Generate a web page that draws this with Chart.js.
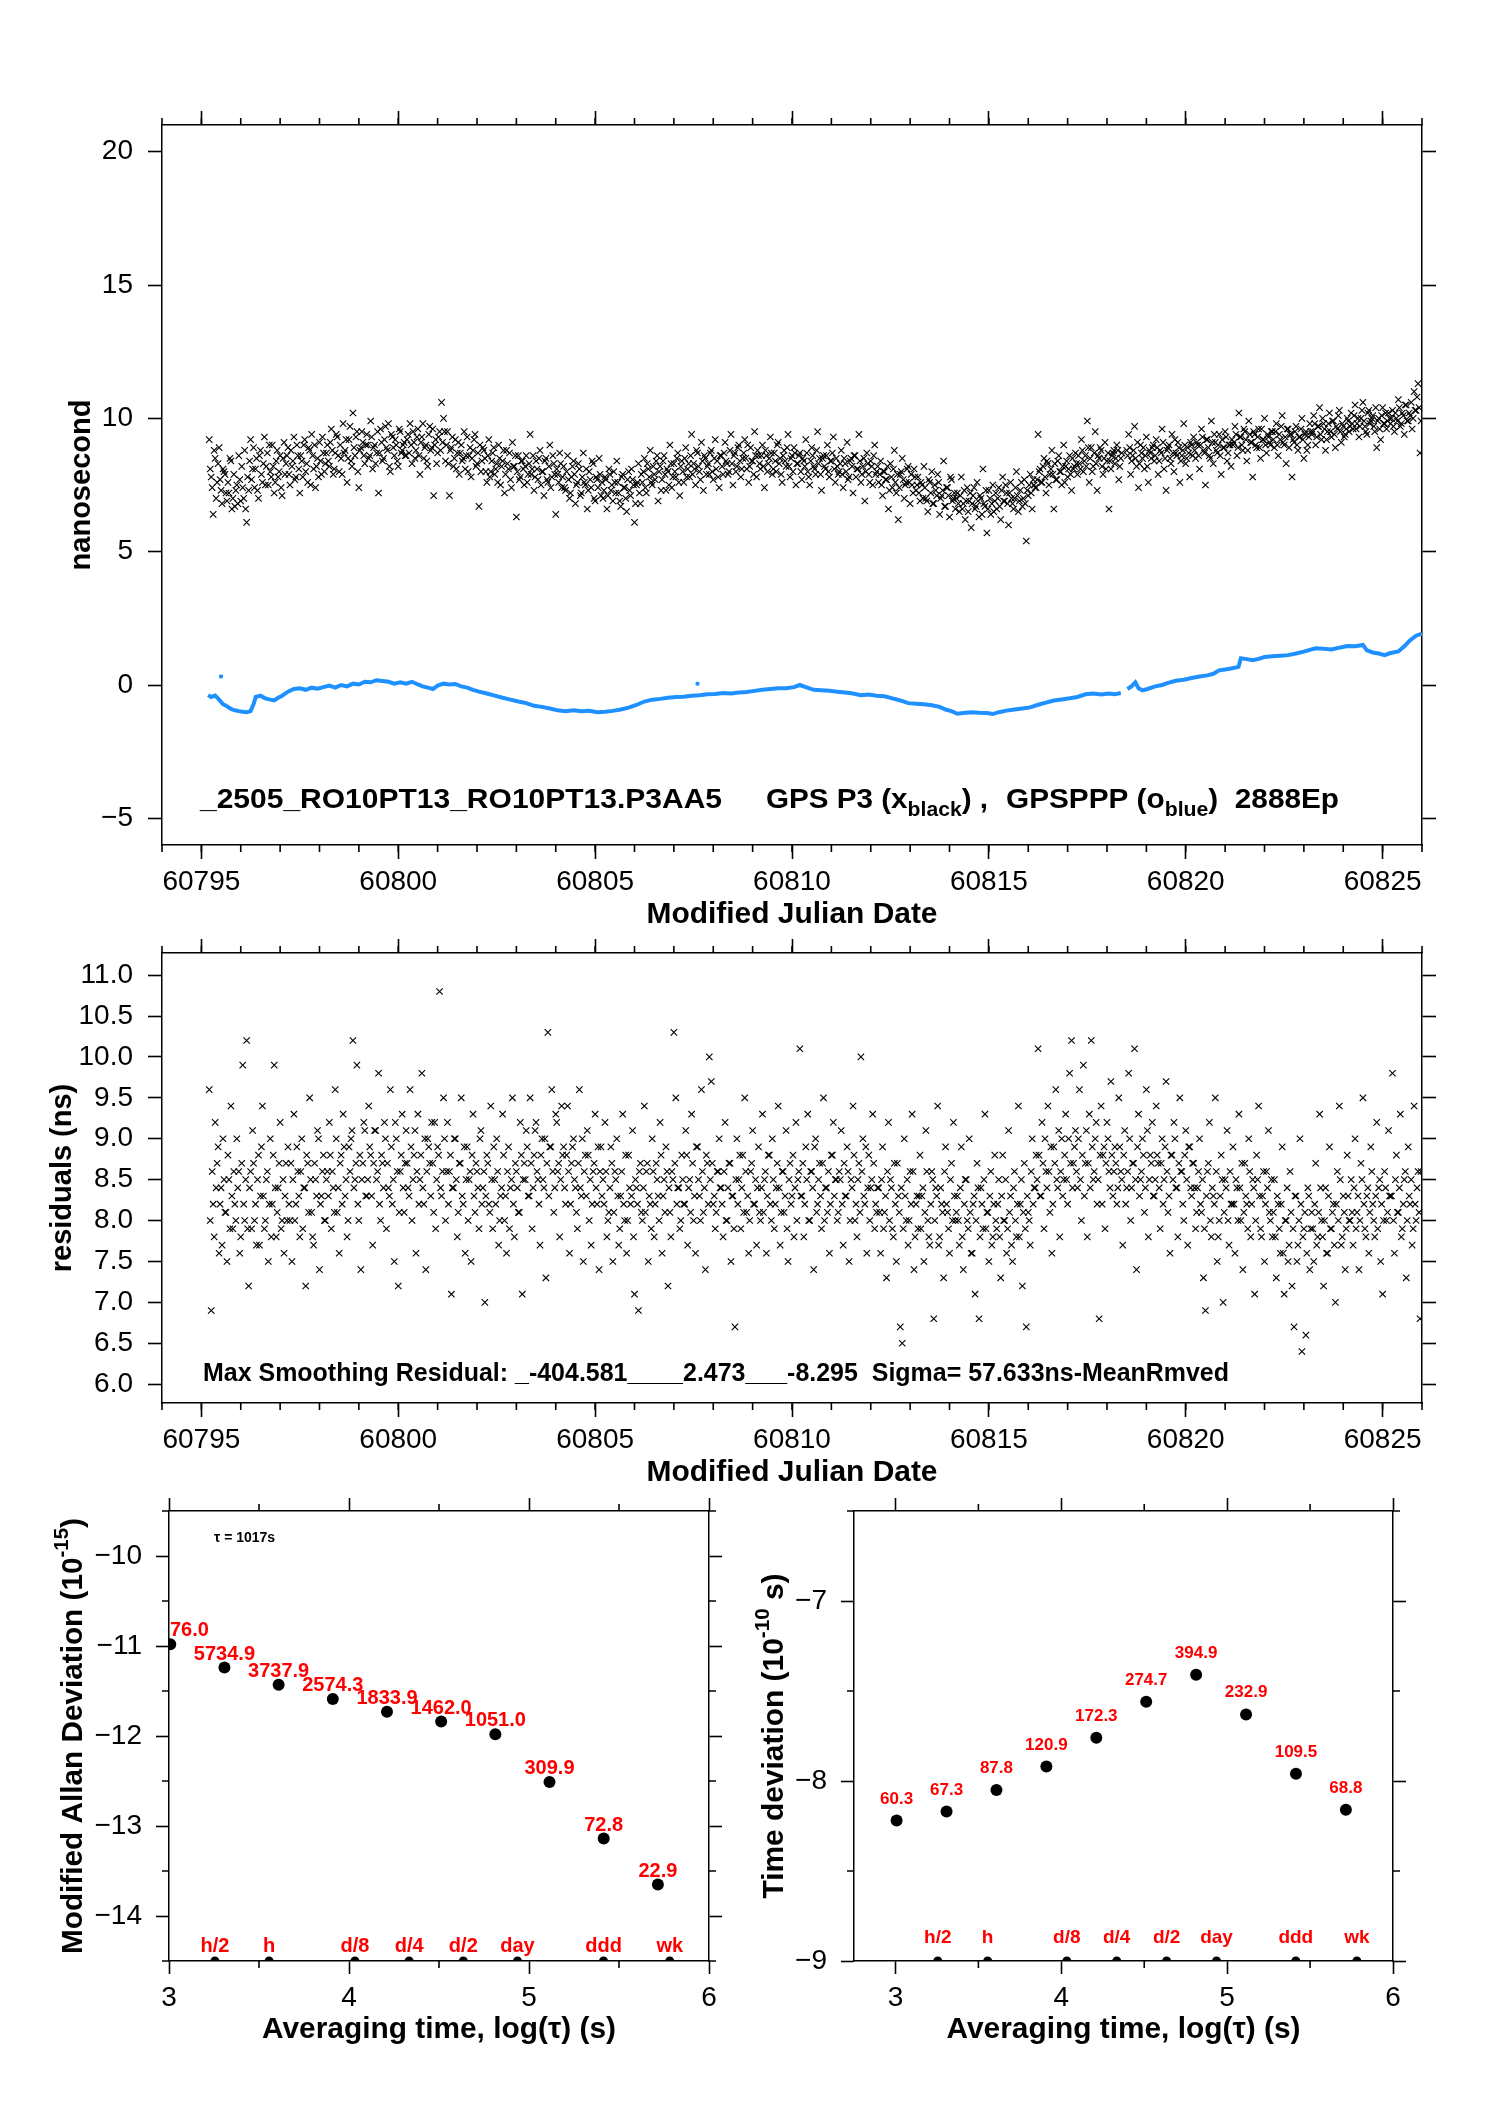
<!DOCTYPE html>
<html>
<head>
<meta charset="utf-8">
<title>GPS P3 vs GPSPPP</title>
<script src="https://cdn.jsdelivr.net/npm/chart.js@4.4.1/dist/chart.umd.min.js"></script>
<style>
  html, body { margin: 0; padding: 0; background: #fff; }
  #page { position: relative; width: 1488px; height: 2105px; }
  #page canvas { position: absolute; left: 0; top: 0; }
</style>
</head>
<body>
<div id="page">
  <canvas id="topChart" width="1488" height="2105"></canvas>
  <canvas id="resChart" width="1488" height="2105"></canvas>
  <canvas id="mdevChart" width="1488" height="2105"></canvas>
  <canvas id="tdevChart" width="1488" height="2105"></canvas>
</div>
<script>
// setup
const W = 1488, H = 2105;
const FONT = '"Liberation Sans", Arial, sans-serif';
const BLUE = '#1e90ff';
const RED = '#ff0000';

// sampling grids of the black series: one epoch every 0.05 d, two interleaved passes
const epochs = Array.from({ length: 616 }, (_, i) => +(60795.2 + i * 0.05).toFixed(3));
const epochs2 = Array.from({ length: 616 }, (_, i) => +(60795.225 + i * 0.05).toFixed(3));

// GPS P3 (x black), ns - one line per day starting at the MJD in the comment
const p3Black = [
  9.2, 7.8, 6.4, 8.5, 7.6, 8.9, 7.3, 8.1, 7.9, 6.9, 7.2, 8.4, 7.0, 6.7, 7.5, 8.6, 6.9, 7.4, 8.8, 6.1, // 60795.2
  7.3, 9.2, 8.1, 7.4, 8.5, 7.0, 8.8, 7.6, 9.3, 8.2, 7.5, 8.0, 9.0, 7.2, 8.4, 7.8, 8.6, 7.1, 9.1, 8.3, // 60796.2
  8.9, 7.5, 8.2, 9.3, 7.8, 8.6, 7.2, 8.4, 9.0, 8.0, 7.6, 8.8, 9.4, 8.1, 7.4, 8.5, 9.1, 7.9, 8.7, 8.3, // 60797.2
  9.0, 8.2, 9.6, 7.9, 8.7, 9.3, 8.0, 8.5, 9.8, 8.8, 7.6, 9.2, 8.4, 10.2, 8.6, 9.5, 7.4, 8.9, 9.1, 8.3, // 60798.2
  9.4, 8.5, 9.9, 8.1, 9.0, 8.7, 7.2, 9.6, 8.4, 9.2, 8.9, 9.8, 8.0, 9.3, 8.6, 9.0, 8.2, 9.5, 8.8, 9.1, // 60799.2
  8.6, 9.4, 9.8, 8.3, 9.1, 8.8, 9.6, 7.9, 9.3, 8.5, 9.0, 8.2, 9.7, 8.9, 7.1, 9.2, 8.7, 9.5, 10.6, 10.0, // 60800.2
  8.4, 9.5, 7.1, 8.9, 8.2, 9.2, 8.7, 7.9, 9.0, 8.5, 8.1, 9.3, 8.6, 7.8, 8.8, 9.4, 8.3, 6.7, 8.0, 8.9, // 60801.2
  8.5, 7.6, 9.2, 8.0, 8.7, 7.9, 8.3, 9.0, 7.5, 8.4, 7.2, 8.8, 8.1, 7.7, 9.1, 8.2, 6.3, 8.6, 7.8, 8.4, // 60802.2
  7.5, 8.6, 7.9, 9.4, 8.1, 7.3, 8.4, 7.7, 8.8, 8.0, 7.1, 8.5, 7.6, 9.0, 7.8, 8.3, 6.4, 7.9, 8.7, 7.4, // 60803.2
  8.2, 7.3, 8.6, 7.0, 7.8, 8.4, 6.8, 7.6, 8.1, 7.2, 8.7, 7.5, 6.6, 8.0, 7.4, 8.3, 6.9, 7.7, 8.5, 7.1, // 60804.2
  7.0, 7.8, 6.6, 8.1, 7.3, 6.9, 7.6, 8.4, 7.2, 6.7, 7.9, 7.4, 6.5, 8.0, 7.1, 7.7, 6.1, 7.5, 8.3, 6.8, // 60805.2
  7.6, 8.5, 7.2, 8.1, 8.8, 7.5, 7.9, 8.4, 6.9, 8.2, 7.7, 8.6, 7.3, 8.0, 9.0, 7.4, 8.3, 7.8, 8.7, 7.1, // 60806.2
  8.4, 7.6, 8.9, 8.1, 7.8, 9.4, 8.3, 7.5, 8.7, 8.0, 9.1, 7.3, 8.5, 8.2, 7.9, 8.8, 7.7, 9.2, 8.4, 7.4, // 60807.2
  8.6, 7.9, 9.1, 8.3, 8.0, 9.4, 7.5, 8.7, 8.2, 9.0, 7.8, 8.5, 9.2, 8.1, 7.6, 8.9, 8.4, 9.5, 7.8, 8.6, // 60808.2
  8.1, 9.0, 7.4, 8.6, 8.3, 9.3, 7.9, 8.7, 8.0, 9.1, 8.5, 7.6, 8.8, 8.2, 9.4, 7.8, 8.6, 8.9, 7.5, 8.3, // 60809.2
  8.7, 7.7, 8.4, 9.2, 8.0, 7.5, 8.9, 8.2, 7.9, 9.5, 8.5, 7.3, 8.6, 8.1, 9.0, 7.8, 8.4, 9.3, 7.6, 8.2, // 60810.2
  8.0, 8.8, 7.4, 8.3, 9.1, 7.8, 8.5, 7.2, 8.6, 8.1, 9.4, 7.6, 8.2, 6.9, 8.7, 7.9, 8.4, 7.5, 9.0, 8.0, // 60811.2
  7.6, 8.4, 7.1, 8.0, 7.7, 6.6, 8.3, 7.4, 8.8, 7.2, 6.2, 7.9, 8.5, 7.0, 7.6, 8.2, 6.8, 7.5, 8.1, 7.3, // 60812.2
  7.8, 6.9, 7.5, 8.2, 7.0, 6.5, 7.6, 8.0, 6.8, 7.3, 7.9, 6.4, 7.1, 8.4, 6.7, 7.4, 6.3, 7.7, 7.0, 6.6, // 60813.2
  7.2, 6.5, 7.8, 6.8, 6.2, 7.4, 6.9, 5.9, 7.1, 6.6, 7.6, 6.3, 7.0, 8.1, 6.7, 5.7, 7.3, 6.4, 7.5, 6.9, // 60814.2
  6.6, 7.4, 6.2, 7.8, 6.9, 7.2, 6.0, 7.6, 6.8, 7.0, 8.0, 6.5, 7.3, 6.7, 7.7, 5.4, 7.1, 7.9, 6.6, 7.5, // 60815.2
  7.4, 9.4, 8.1, 7.6, 8.5, 7.2, 8.3, 7.9, 8.8, 6.6, 7.7, 8.4, 8.0, 7.5, 9.0, 8.2, 7.8, 8.6, 7.3, 8.1, // 60816.2
  8.7, 7.9, 8.3, 9.2, 8.0, 8.6, 9.9, 7.6, 8.9, 8.2, 9.5, 7.3, 8.5, 8.8, 7.9, 9.1, 8.4, 6.6, 8.1, 8.7, // 60817.2
  8.3, 9.0, 7.7, 8.5, null, null, 8.8, 9.4, 7.9, 8.6, 9.7, 8.2, 7.4, 9.0, 8.5, 8.1, 9.3, 7.6, 8.7, 8.9, // 60818.2
  8.4, 9.2, 7.9, 8.8, 9.6, 8.1, 7.3, 8.9, 8.5, 9.4, 8.0, 8.7, 9.1, 7.6, 8.6, 9.8, 8.3, 8.9, 7.8, 9.0, // 60819.2
  9.3, 8.5, 9.0, 8.1, 9.6, 8.8, 7.5, 9.2, 8.6, 9.9, 8.3, 9.1, 8.7, 9.4, 7.9, 8.9, 9.5, 8.4, 9.0, 8.2, // 60820.2
  9.0, 9.7, 8.6, 10.2, 9.3, 8.8, 9.5, 8.4, 9.9, 9.1, 7.8, 9.4, 8.9, 9.6, 8.5, 9.2, 10.0, 8.7, 9.3, 9.0, // 60821.2
  9.5, 8.9, 9.8, 8.6, 9.2, 10.1, 9.0, 8.3, 9.6, 9.4, 7.8, 9.1, 9.7, 8.8, 9.3, 10.0, 8.5, 9.5, 9.0, 9.8, // 60822.2
  9.4, 10.1, 9.0, 9.7, 10.4, 9.2, 9.8, 8.8, 9.5, 10.2, 9.3, 9.9, 8.9, 9.6, 10.3, 9.1, 9.7, 9.4, 10.0, 9.5, // 60823.2
  10.2, 9.6, 10.5, 9.8, 9.3, 10.0, 10.6, 9.7, 9.4, 10.3, 9.9, 10.1, 9.5, 8.9, 10.0, 9.2, 10.4, 9.8, 9.6, 10.2, // 60824.2
  9.8, 10.3, 9.5, 10.0, 10.7, 9.7, 10.2, 9.4, 10.5, 9.9, 10.1, 9.6, 11.0, 10.3, 11.3, 8.7 // 60825.2
];
// second pass, epochs2
const p3Black2 = [
  8.1, 7.4, 8.8, 7.0, 8.3, 7.7, 6.8, 8.0, 7.2, 7.6, 8.5, 6.6, 7.9, 7.3, 6.8, 7.7, 8.2, 7.0, 6.6, 7.8, // 60795.2
  8.4, 7.7, 8.9, 8.1, 7.3, 8.6, 7.9, 8.3, 7.5, 8.7, 9.0, 7.8, 8.2, 7.6, 8.8, 8.0, 7.4, 8.5, 7.9, 8.6, // 60796.2
  7.9, 8.8, 8.4, 7.7, 9.0, 8.1, 8.6, 7.8, 9.2, 8.3, 8.9, 7.5, 8.6, 9.0, 8.2, 7.8, 8.4, 9.3, 8.0, 8.7, // 60797.2
  8.4, 9.1, 8.8, 8.1, 9.4, 8.6, 9.0, 7.9, 8.7, 9.2, 8.5, 9.7, 8.2, 8.9, 9.3, 8.0, 8.8, 9.5, 8.6, 9.0, // 60798.2
  9.0, 8.6, 9.3, 8.9, 8.3, 9.5, 8.7, 9.1, 8.5, 9.7, 8.8, 8.2, 9.4, 8.9, 9.2, 8.4, 9.6, 8.7, 9.0, 8.6, // 60799.2
  9.2, 8.7, 9.0, 9.5, 8.5, 9.3, 8.6, 9.1, 9.8, 8.9, 8.4, 9.4, 8.8, 9.6, 9.0, 8.3, 9.3, 8.8, 9.1, 9.5, // 60800.2
  9.0, 8.3, 8.8, 9.3, 8.5, 8.1, 9.1, 8.7, 8.4, 9.5, 8.6, 8.0, 8.9, 8.5, 9.2, 8.2, 8.7, 9.0, 8.4, 8.8, // 60801.2
  8.0, 8.6, 7.8, 8.4, 8.9, 8.1, 7.6, 8.5, 8.2, 8.8, 7.9, 8.3, 8.7, 7.4, 8.2, 8.6, 8.0, 7.7, 8.4, 8.1, // 60802.2
  8.2, 7.6, 8.3, 7.9, 8.6, 7.8, 8.1, 8.5, 7.5, 8.0, 8.4, 7.7, 8.2, 7.4, 8.6, 7.9, 8.1, 7.6, 8.3, 7.8, // 60803.2
  7.4, 8.0, 7.7, 7.2, 8.2, 7.9, 7.5, 8.3, 7.1, 7.8, 7.6, 8.1, 7.3, 7.7, 8.4, 7.0, 7.8, 7.4, 7.9, 7.6, // 60804.2
  7.3, 7.7, 7.1, 7.9, 7.5, 8.0, 7.2, 7.6, 6.9, 7.8, 7.4, 7.0, 7.7, 7.3, 8.1, 7.5, 6.8, 7.6, 7.2, 7.9, // 60805.2
  8.0, 7.4, 8.3, 7.8, 7.6, 8.2, 7.7, 8.6, 8.0, 7.3, 8.4, 7.9, 8.1, 7.5, 8.3, 7.8, 8.0, 8.5, 7.6, 8.2, // 60806.2
  8.0, 8.5, 7.8, 8.3, 8.6, 7.9, 8.1, 8.8, 8.2, 7.7, 8.4, 8.6, 7.9, 8.3, 8.7, 8.0, 8.5, 8.1, 7.8, 8.6, // 60807.2
  8.2, 8.7, 8.4, 7.9, 8.8, 8.3, 8.6, 8.0, 8.9, 8.4, 8.1, 8.7, 8.5, 9.0, 8.2, 8.4, 7.9, 8.6, 8.8, 8.3, // 60808.2
  8.6, 8.2, 8.8, 8.0, 8.5, 8.7, 8.1, 8.4, 9.0, 8.3, 7.9, 8.6, 8.4, 8.9, 8.2, 8.5, 8.0, 8.7, 8.3, 8.6, // 60809.2
  8.0, 8.5, 8.2, 8.7, 7.8, 8.4, 8.6, 8.1, 8.8, 8.3, 7.9, 8.5, 8.2, 8.6, 8.0, 8.4, 8.7, 8.1, 8.5, 7.9, // 60810.2
  8.3, 7.9, 8.5, 8.0, 7.7, 8.4, 8.2, 8.6, 7.8, 8.1, 8.4, 7.9, 8.5, 8.0, 8.3, 7.6, 8.2, 8.6, 7.9, 8.2, // 60811.2
  7.9, 7.5, 8.0, 7.7, 8.2, 7.3, 7.8, 8.1, 7.6, 7.9, 7.4, 8.0, 7.7, 7.5, 8.1, 7.6, 7.9, 7.2, 7.8, 7.5, // 60812.2
  7.2, 7.6, 7.0, 7.4, 6.9, 7.7, 7.2, 6.8, 7.5, 7.1, 7.6, 7.0, 7.3, 6.7, 7.4, 7.1, 7.8, 6.9, 7.2, 7.0, // 60813.2
  6.8, 7.1, 6.6, 7.3, 6.9, 6.5, 7.2, 6.8, 7.4, 6.7, 6.9, 7.1, 6.4, 6.8, 7.3, 6.6, 7.0, 6.8, 6.5, 7.2, // 60814.2
  7.0, 6.7, 7.3, 6.9, 7.5, 6.8, 7.2, 7.0, 6.6, 7.4, 7.1, 6.9, 7.6, 7.0, 6.8, 7.3, 7.5, 7.2, 7.7, 7.4, // 60815.2
  7.7, 8.0, 7.6, 8.2, 7.8, 8.4, 7.5, 8.1, 7.9, 8.3, 7.7, 8.6, 8.0, 8.2, 7.6, 8.4, 8.1, 7.9, 8.5, 8.2, // 60816.2
  8.3, 8.6, 8.1, 8.8, 8.4, 8.2, 8.9, 8.5, 8.0, 8.7, 8.3, 8.6, 8.9, 8.2, 8.5, 8.1, 8.7, 8.4, 8.6, 8.8, // 60817.2
  8.5, 8.8, 8.2, 8.7, null, null, 8.6, 8.9, 8.4, 8.8, 8.5, 9.1, 8.3, 8.7, 8.9, 8.6, 8.2, 8.8, 8.5, 9.0, // 60818.2
  8.6, 8.9, 8.4, 8.7, 9.1, 8.5, 8.8, 9.0, 8.3, 8.7, 9.2, 8.6, 8.9, 8.4, 8.8, 9.0, 8.5, 8.7, 9.1, 8.6, // 60819.2
  8.8, 9.1, 8.6, 9.0, 9.3, 8.7, 9.2, 8.9, 8.5, 9.1, 9.4, 8.8, 9.0, 8.6, 9.2, 8.9, 9.3, 8.7, 9.0, 9.2, // 60820.2
  9.1, 9.4, 8.9, 9.3, 9.0, 9.6, 9.2, 8.8, 9.4, 9.1, 9.5, 9.0, 9.3, 8.9, 9.6, 9.2, 9.0, 9.4, 9.1, 9.5, // 60821.2
  9.2, 9.5, 9.0, 9.4, 9.7, 9.1, 9.3, 9.6, 8.9, 9.4, 9.2, 9.5, 9.0, 9.3, 9.6, 9.2, 9.4, 8.8, 9.3, 9.5, // 60822.2
  9.5, 9.8, 9.3, 9.7, 9.4, 10.0, 9.6, 9.2, 9.8, 9.5, 9.9, 9.4, 9.7, 10.1, 9.5, 9.8, 9.3, 9.6, 9.9, 9.7, // 60823.2
  9.8, 10.1, 9.6, 10.0, 9.7, 10.3, 9.9, 9.5, 10.2, 9.8, 10.0, 9.7, 10.4, 9.9, 9.6, 10.1, 9.8, 10.2, 9.9, 10.0, // 60824.2
  10.0, 9.7, 10.2, 9.9, 10.4, 9.8, 10.1, 10.5, 9.9, 10.2, 10.6, 10.0, 10.3, 10.8, 10.4, 9.9 // 60825.2
];

// residuals of the black series after smoothing, ns
const residuals = [
  9.6, 6.9, 8.2, 9.2, 8.7, 7.6, 8.4, 9.0, 8.1, 7.5, 8.5, 9.4, 7.9, 8.2, 9.0, 8.6, 7.8, 9.9, 8.0, 10.2, // 60795.2
  7.2, 8.6, 9.1, 8.0, 7.7, 8.8, 8.3, 9.4, 7.9, 8.5, 7.5, 9.0, 8.2, 9.9, 7.8, 8.4, 9.2, 8.0, 7.6, 8.7, // 60796.2
  8.9, 8.0, 7.5, 9.3, 8.2, 8.6, 7.8, 9.0, 8.4, 7.2, 8.7, 9.5, 8.1, 7.7, 8.5, 9.1, 7.4, 8.3, 8.8, 8.0, // 60797.2
  8.6, 9.2, 7.9, 8.4, 9.6, 8.1, 7.6, 8.8, 9.3, 8.3, 7.8, 8.9, 9.0, 10.2, 8.5, 9.9, 8.0, 7.4, 8.7, 9.1, // 60798.2
  8.3, 9.4, 8.8, 7.7, 9.1, 8.5, 9.8, 8.0, 8.7, 9.2, 7.9, 8.4, 9.6, 8.2, 7.5, 9.0, 7.2, 8.6, 9.3, 8.1, // 60799.2
  9.1, 8.4, 9.6, 8.0, 8.8, 7.6, 9.3, 8.5, 9.8, 8.2, 7.4, 9.0, 8.7, 9.2, 8.1, 7.9, 8.9, 10.8, 8.3, 9.5, // 60800.2
  8.0, 9.2, 8.6, 7.1, 8.4, 9.0, 7.8, 8.7, 9.5, 8.2, 7.6, 8.9, 8.5, 7.5, 9.3, 8.1, 8.6, 7.9, 9.1, 8.4, // 60801.2
  7.0, 8.8, 8.2, 9.4, 7.9, 8.5, 9.0, 7.7, 8.3, 9.3, 8.0, 7.6, 8.9, 8.4, 9.5, 7.8, 8.6, 8.1, 9.2, 7.1, // 60802.2
  8.7, 9.1, 8.3, 9.5, 7.9, 8.8, 9.2, 8.5, 7.7, 9.0, 8.4, 7.3, 10.3, 8.9, 9.6, 8.1, 9.3, 8.6, 7.8, 9.4, // 60803.2
  8.9, 8.2, 9.4, 7.6, 8.7, 9.0, 8.4, 7.9, 9.6, 8.3, 7.5, 8.8, 9.1, 8.0, 7.7, 8.6, 9.3, 8.2, 7.4, 8.9, // 60804.2
  8.5, 9.2, 7.8, 8.1, 8.9, 7.5, 8.6, 9.0, 7.7, 8.3, 9.3, 8.0, 7.6, 8.8, 8.2, 9.1, 7.1, 8.4, 6.9, 8.7, // 60805.2
  8.0, 9.4, 8.6, 7.5, 8.2, 9.0, 7.8, 8.7, 8.3, 9.2, 7.6, 8.5, 8.9, 7.2, 8.1, 8.6, 10.3, 9.5, 8.4, 7.9, // 60806.2
  8.8, 8.2, 9.1, 7.7, 8.5, 9.3, 8.0, 7.6, 8.9, 8.3, 9.6, 8.1, 7.4, 8.7, 10.0, 9.7, 8.2, 7.9, 8.6, 9.0, // 60807.2
  8.4, 7.8, 9.2, 8.0, 8.7, 7.5, 8.3, 6.7, 9.0, 8.5, 7.9, 8.8, 9.5, 8.1, 7.6, 8.6, 9.1, 8.2, 7.7, 8.9, // 60808.2
  8.0, 9.3, 8.5, 7.6, 8.8, 8.2, 9.0, 7.9, 8.4, 9.4, 7.7, 8.6, 8.1, 9.1, 7.5, 8.7, 8.3, 7.8, 9.2, 8.5, // 60809.2
  10.1, 8.3, 7.8, 8.9, 9.3, 8.0, 8.6, 7.4, 9.0, 8.2, 8.7, 7.9, 9.5, 8.4, 8.1, 7.6, 8.8, 9.2, 8.5, 8.0, // 60810.2
  8.6, 9.1, 7.7, 8.3, 8.9, 7.5, 8.5, 9.4, 8.0, 7.8, 8.7, 10.0, 9.0, 8.2, 7.6, 8.8, 8.4, 9.3, 7.9, 8.1, // 60811.2
  8.4, 7.6, 8.9, 8.1, 7.3, 9.2, 8.5, 7.9, 8.7, 7.5, 8.3, 6.7, 6.5, 9.0, 8.0, 7.7, 8.6, 9.3, 7.4, 8.2, // 60812.2
  7.9, 8.8, 8.3, 7.5, 9.1, 8.0, 7.7, 8.6, 6.8, 8.4, 9.4, 7.8, 8.2, 7.3, 8.9, 8.1, 7.6, 8.7, 9.2, 8.0, // 60813.2
  8.3, 7.7, 8.9, 7.4, 8.5, 8.0, 9.0, 7.6, 8.2, 7.1, 8.7, 6.8, 8.4, 7.9, 9.3, 8.1, 7.5, 8.6, 7.8, 8.8, // 60814.2
  7.9, 8.5, 7.3, 8.8, 8.0, 7.6, 9.1, 8.3, 7.5, 8.6, 7.8, 9.4, 8.2, 7.2, 8.7, 6.7, 8.1, 7.7, 9.0, 8.4, // 60815.2
  8.8, 10.1, 8.3, 9.2, 7.9, 8.6, 9.4, 8.1, 7.6, 8.9, 9.6, 8.4, 7.8, 9.0, 8.5, 9.3, 8.2, 9.8, 10.2, 8.7, // 60816.2
  9.1, 8.4, 9.6, 8.0, 9.9, 8.7, 7.8, 9.3, 10.2, 8.5, 9.0, 8.2, 6.8, 9.4, 8.8, 7.9, 9.2, 8.6, 9.7, 8.3, // 60817.2
  8.9, 8.2, 9.5, 8.6, 7.7, 9.1, 8.4, 9.8, 8.0, 8.7, 10.1, 7.4, 9.3, 8.5, 9.0, 8.1, 9.6, 7.8, 8.8, 9.2, // 60818.2
  8.3, 9.4, 8.7, 7.9, 9.0, 8.5, 9.7, 8.1, 7.6, 8.8, 9.2, 8.4, 7.8, 9.5, 8.6, 8.0, 9.1, 7.7, 8.9, 8.3, // 60819.2
  8.7, 7.9, 8.4, 9.0, 8.1, 7.3, 6.9, 8.6, 9.2, 7.8, 8.3, 9.5, 7.5, 8.0, 8.8, 7.0, 8.5, 9.1, 7.7, 8.2, // 60820.2
  8.9, 7.6, 8.4, 9.3, 8.0, 7.4, 8.7, 8.2, 9.0, 7.8, 8.5, 7.1, 8.8, 9.4, 7.9, 8.3, 7.5, 8.6, 9.1, 8.0, // 60821.2
  7.8, 8.5, 7.3, 8.2, 7.6, 8.9, 7.1, 8.0, 7.5, 8.6, 7.2, 6.7, 8.3, 7.7, 9.0, 6.4, 7.9, 6.6, 8.4, 7.4, // 60822.2
  8.1, 7.5, 8.7, 7.8, 9.3, 8.0, 7.2, 8.4, 7.6, 8.9, 7.9, 8.2, 7.0, 8.6, 9.4, 7.7, 8.3, 7.4, 8.8, 8.0, // 60823.2
  8.5, 7.7, 9.0, 8.1, 7.4, 8.7, 9.5, 7.9, 8.3, 7.6, 8.9, 8.2, 7.8, 9.2, 8.4, 7.5, 7.1, 8.6, 8.0, 9.1, // 60824.2
  8.3, 9.8, 7.6, 8.8, 8.1, 9.3, 7.9, 8.5, 7.3, 8.9, 8.2, 7.7, 9.4, 8.0, 8.6, 6.8 // 60825.2
];
// second pass, epochs2
const residuals2 = [
  8.0, 8.6, 7.8, 8.4, 8.9, 8.2, 7.7, 8.5, 8.1, 8.8, 7.9, 8.3, 8.6, 8.0, 8.4, 7.6, 8.7, 8.2, 8.5, 7.9, // 60795.2
  8.4, 7.9, 8.7, 8.2, 8.5, 7.7, 8.9, 8.3, 8.0, 8.6, 8.2, 7.8, 8.8, 8.4, 8.1, 8.7, 7.9, 8.5, 8.3, 8.0, // 60796.2
  8.2, 8.7, 8.5, 8.0, 8.9, 8.3, 8.6, 7.9, 8.4, 8.8, 8.1, 8.5, 7.8, 8.7, 8.3, 9.0, 8.2, 8.6, 8.0, 8.5, // 60797.2
  8.3, 8.8, 8.6, 8.1, 9.0, 8.4, 8.7, 8.2, 8.9, 8.5, 8.0, 8.6, 9.1, 8.4, 8.7, 8.2, 8.8, 8.5, 9.2, 8.3, // 60798.2
  8.5, 8.9, 8.3, 8.7, 9.1, 8.6, 8.2, 8.8, 8.4, 9.0, 8.7, 8.3, 8.9, 8.5, 9.2, 8.6, 8.1, 8.8, 8.4, 8.7, // 60799.2
  8.7, 8.3, 8.9, 8.5, 9.1, 8.6, 8.2, 8.8, 8.4, 9.0, 8.6, 8.9, 8.3, 8.7, 9.2, 8.5, 8.8, 8.4, 8.6, 9.0, // 60800.2
  8.6, 8.2, 8.8, 8.4, 9.0, 8.5, 8.1, 8.7, 8.3, 8.9, 8.5, 8.0, 8.6, 8.8, 8.3, 8.7, 8.4, 9.0, 8.2, 8.6, // 60801.2
  8.3, 8.7, 8.1, 8.5, 8.9, 8.2, 8.6, 8.0, 8.4, 8.8, 8.3, 8.6, 7.9, 8.5, 8.2, 8.7, 8.4, 8.1, 8.8, 8.5, // 60802.2
  8.5, 8.9, 8.3, 8.7, 8.4, 9.1, 8.6, 8.2, 8.8, 8.5, 9.0, 8.7, 8.3, 8.9, 8.6, 8.4, 9.2, 8.7, 8.5, 8.8, // 60803.2
  8.4, 8.8, 8.6, 8.2, 8.9, 8.5, 8.1, 8.7, 8.4, 9.0, 8.6, 8.3, 8.8, 8.5, 8.2, 8.7, 8.4, 8.9, 8.6, 8.3, // 60804.2
  8.2, 8.6, 8.0, 8.4, 8.7, 8.1, 8.5, 8.3, 7.9, 8.6, 8.2, 8.8, 8.0, 8.4, 8.3, 7.8, 8.5, 8.2, 8.6, 8.1, // 60805.2
  8.4, 8.1, 8.7, 8.3, 7.9, 8.6, 8.2, 8.5, 8.0, 8.8, 8.3, 8.1, 8.6, 8.4, 7.8, 8.5, 8.7, 8.2, 8.4, 8.0, // 60806.2
  8.5, 8.2, 8.8, 8.4, 8.1, 8.7, 8.3, 8.9, 8.5, 8.0, 8.6, 8.4, 8.8, 8.2, 8.5, 8.7, 8.3, 8.1, 8.6, 8.4, // 60807.2
  8.2, 8.6, 8.0, 8.4, 8.7, 8.3, 7.9, 8.5, 8.2, 8.8, 8.4, 8.1, 8.6, 8.3, 8.0, 8.7, 8.2, 8.5, 8.4, 8.1, // 60808.2
  8.4, 8.1, 8.6, 8.3, 8.8, 8.0, 8.5, 8.2, 8.7, 8.4, 8.1, 8.6, 8.3, 7.9, 8.5, 8.2, 8.8, 8.4, 8.0, 8.6, // 60809.2
  8.3, 8.7, 8.2, 8.5, 8.0, 8.6, 8.4, 8.9, 8.1, 8.5, 8.3, 8.7, 8.0, 8.4, 8.6, 8.2, 8.8, 8.3, 8.5, 8.1, // 60810.2
  8.5, 8.2, 8.7, 8.3, 8.6, 8.0, 8.4, 8.8, 8.2, 8.5, 8.1, 8.6, 8.3, 8.9, 8.4, 8.0, 8.5, 8.7, 8.2, 8.4, // 60811.2
  8.1, 8.5, 7.9, 8.3, 8.6, 8.0, 8.4, 7.8, 8.2, 8.7, 8.1, 8.4, 7.9, 8.3, 8.5, 8.0, 8.2, 8.6, 7.8, 8.3, // 60812.2
  8.3, 7.9, 8.4, 8.1, 8.6, 7.8, 8.2, 8.5, 8.0, 8.3, 7.7, 8.4, 8.1, 8.6, 8.2, 7.9, 8.5, 8.0, 8.3, 8.1, // 60813.2
  8.0, 8.4, 7.8, 8.2, 8.5, 7.9, 8.1, 7.6, 8.3, 8.0, 8.4, 7.8, 8.2, 8.5, 7.9, 8.1, 8.3, 7.7, 8.2, 8.0, // 60814.2
  8.2, 7.8, 8.3, 8.0, 8.5, 7.9, 8.1, 7.7, 8.4, 8.0, 8.2, 7.8, 8.5, 8.1, 7.9, 8.3, 8.0, 8.6, 8.2, 8.4, // 60815.2
  8.5, 8.8, 8.3, 8.7, 9.0, 8.4, 8.6, 8.9, 8.2, 8.7, 8.5, 9.1, 8.6, 8.3, 8.8, 8.5, 9.0, 8.7, 8.4, 8.9, // 60816.2
  8.6, 9.0, 8.5, 8.8, 8.3, 9.1, 8.7, 8.4, 8.9, 8.6, 9.2, 8.5, 8.8, 8.2, 8.9, 8.7, 9.0, 8.4, 8.8, 8.6, // 60817.2
  8.7, 8.4, 8.9, 8.5, 8.8, 8.2, 8.6, 9.0, 8.4, 8.7, 8.5, 8.9, 8.3, 8.6, 8.8, 8.4, 9.1, 8.5, 8.7, 8.3, // 60818.2
  8.5, 8.8, 8.4, 8.7, 8.2, 8.9, 8.6, 8.3, 8.8, 8.5, 9.0, 8.4, 8.7, 8.6, 8.2, 8.8, 8.5, 8.9, 8.4, 8.7, // 60819.2
  8.4, 8.1, 8.6, 8.2, 8.5, 7.9, 8.3, 8.7, 8.0, 8.4, 8.2, 8.6, 7.8, 8.3, 8.5, 8.1, 8.4, 8.0, 8.6, 8.2, // 60820.2
  8.2, 8.5, 8.0, 8.4, 8.7, 8.1, 8.3, 7.9, 8.6, 8.2, 8.4, 8.0, 8.5, 8.3, 7.8, 8.6, 8.2, 8.4, 8.1, 8.5, // 60821.2
  8.1, 7.8, 8.3, 7.9, 8.2, 7.6, 8.0, 8.4, 7.7, 8.1, 7.9, 8.3, 7.5, 8.0, 8.2, 7.8, 8.1, 7.6, 8.3, 7.9, // 60822.2
  7.9, 8.2, 7.7, 8.1, 8.4, 7.8, 8.0, 7.6, 8.3, 7.9, 8.1, 7.7, 8.2, 8.0, 8.5, 7.8, 8.1, 7.9, 8.3, 8.0, // 60823.2
  8.1, 8.4, 7.9, 8.3, 8.0, 8.5, 8.2, 7.8, 8.4, 8.1, 8.6, 8.0, 8.3, 7.9, 8.5, 8.2, 8.0, 8.4, 8.1, 8.3, // 60824.2
  8.3, 8.0, 8.5, 8.1, 8.4, 7.8, 8.2, 8.6, 8.0, 8.3, 8.5, 7.9, 8.2, 8.4, 8.1, 8.6 // 60825.2
];

// GPSPPP (o blue), ns
const pppX = [
  60795.17, 60795.25, 60795.35, 60795.45, 60795.55, 60795.65, 60795.75, 60795.85, 60795.95, 60796.05,
  60796.15, 60796.25, 60796.33, 60796.38, 60796.5, 60796.62, 60796.75, 60796.85, 60796.95, 60797.05,
  60797.2, 60797.35, 60797.5, 60797.65, 60797.8, 60797.95, 60798.1, 60798.25, 60798.4, 60798.55,
  60798.7, 60798.85, 60799, 60799.15, 60799.3, 60799.45, 60799.6, 60799.75, 60799.9, 60800.05,
  60800.2, 60800.35, 60800.5, 60800.62, 60800.75, 60800.88, 60801, 60801.15, 60801.3, 60801.45,
  60801.6, 60801.75, 60801.9, 60802.05, 60802.25, 60802.45, 60802.65, 60802.85, 60803.05, 60803.25,
  60803.45, 60803.65, 60803.85, 60804.05, 60804.25, 60804.45, 60804.65, 60804.85, 60805.05, 60805.25,
  60805.45, 60805.65, 60805.85, 60806.05, 60806.25, 60806.45, 60806.65, 60806.85, 60807.05, 60807.25,
  60807.45, 60807.65, 60807.85, 60808.05, 60808.25, 60808.45, 60808.65, 60808.85, 60809.05, 60809.25,
  60809.45, 60809.65, 60809.85, 60810.05, 60810.2, 60810.35, 60810.55, 60810.75, 60810.95, 60811.15,
  60811.35, 60811.55, 60811.75, 60811.95, 60812.15, 60812.35, 60812.55, 60812.75, 60812.95, 60813.15,
  60813.35, 60813.55, 60813.75, 60813.9, 60814.05, 60814.2, 60814.35, 60814.55, 60814.75, 60814.95,
  60815.1, 60815.25, 60815.45, 60815.65, 60815.85, 60816.05, 60816.25, 60816.45, 60816.65, 60816.85,
  60817.05, 60817.25, 60817.45, 60817.65, 60817.85, 60818.05, 60818.2, 60818.35, 60818.44, 60818.52,
  60818.62, 60818.72, 60818.8, 60818.9, 60819.05, 60819.2, 60819.4, 60819.55, 60819.75, 60819.95,
  60820.15, 60820.35, 60820.55, 60820.7, 60820.85, 60821, 60821.15, 60821.34, 60821.4, 60821.55,
  60821.7, 60821.85, 60822, 60822.2, 60822.4, 60822.6, 60822.8, 60823, 60823.15, 60823.3,
  60823.5, 60823.7, 60823.9, 60824.1, 60824.3, 60824.5, 60824.6, 60824.75, 60824.9, 60825.05,
  60825.2, 60825.4, 60825.55, 60825.7, 60825.85, 60826
];
const pppY = [
  -0.38, -0.45, -0.40, -0.55, -0.72, -0.80, -0.90, -0.95, -0.98, -1.00,
  -1.02, -0.98, -0.70, -0.45, -0.40, -0.50, -0.55, -0.58, -0.48, -0.40,
  -0.25, -0.15, -0.12, -0.18, -0.10, -0.14, -0.08, -0.02, -0.10, 0.00,
  -0.05, 0.05, 0.02, 0.12, 0.10, 0.18, 0.15, 0.12, 0.05, 0.10,
  0.05, 0.12, 0.02, -0.05, -0.10, -0.15, -0.02, 0.05, 0.02, 0.04,
  -0.05, -0.10, -0.18, -0.25, -0.32, -0.40, -0.48, -0.55, -0.62, -0.68,
  -0.78, -0.82, -0.88, -0.95, -0.98, -0.95, -0.98, -0.97, -1.02, -1.00,
  -0.97, -0.92, -0.85, -0.75, -0.62, -0.55, -0.52, -0.48, -0.45, -0.44,
  -0.40, -0.38, -0.35, -0.34, -0.30, -0.32, -0.28, -0.26, -0.22, -0.18,
  -0.15, -0.12, -0.12, -0.08, 0.00, -0.08, -0.18, -0.20, -0.22, -0.25,
  -0.28, -0.32, -0.38, -0.36, -0.40, -0.42, -0.50, -0.58, -0.68, -0.70,
  -0.72, -0.76, -0.82, -0.92, -0.98, -1.08, -1.05, -1.02, -1.04, -1.05,
  -1.09, -1.02, -0.96, -0.92, -0.88, -0.84, -0.74, -0.66, -0.58, -0.54,
  -0.50, -0.45, -0.35, -0.32, -0.36, -0.32, -0.35, -0.30, null, -0.15,
  -0.05, 0.10, -0.12, -0.20, -0.14, -0.06, 0.00, 0.08, 0.16, 0.20,
  0.26, 0.32, 0.36, 0.42, 0.55, 0.58, 0.62, 0.68, 1.00, 0.97,
  0.93, 0.98, 1.05, 1.08, 1.10, 1.12, 1.18, 1.25, 1.32, 1.38,
  1.36, 1.33, 1.40, 1.46, 1.45, 1.50, 1.30, 1.22, 1.18, 1.12,
  1.20, 1.26, 1.45, 1.68, 1.85, 1.93
];
// isolated blue points off the curve
const pppOddX = [60795.5, 60807.6];
const pppOddY = [0.32, 0.05];

// stability, log10(tau) in s
const logTau = [3.007, 3.308, 3.609, 3.910, 4.211, 4.512, 4.813, 5.114, 5.415, 5.716];
const mdev = [-10.98, -11.24, -11.43, -11.59, -11.73, -11.84, -11.98, -12.51, -13.14, -13.65];
const mdevLabels = ['76.0', '5734.9', '3737.9', '2574.3', '1833.9', '1462.0', '1051.0', '309.9', '72.8', '22.9'];
const tdev = [-8.22, -8.17, -8.05, -7.92, -7.76, -7.56, -7.41, -7.63, -7.96, -8.16];
const tdevLabels = ['60.3', '67.3', '87.8', '120.9', '172.3', '274.7', '394.9', '232.9', '109.5', '68.8'];
const markX = [3.255, 3.556, 4.033, 4.334, 4.635, 4.936, 5.414, 5.782];
const markLabels = ['h/2', 'h', 'd/8', 'd/4', 'd/2', 'day', 'ddd', 'wk'];

// tick labels
const mjdTicks = [60795, 60800, 60805, 60810, 60815, 60820, 60825];
const mjdMinor = Array.from({ length: 33 }, (_, i) => 60794 + i);
const nsTicks = [-5, 0, 5, 10, 15, 20];
const resTicks = [6.0, 6.5, 7.0, 7.5, 8.0, 8.5, 9.0, 9.5, 10.0, 10.5, 11.0];
const logTicks = [3, 4, 5, 6];
const logMinor = [3.5, 4.5, 5.5];
const mdevTicks = [-14, -13, -12, -11, -10];
const mdevMinor = [-14.5, -13.5, -12.5, -11.5, -10.5, -9.5];
const tdevTicks = [-9, -8, -7];
const tdevMinor = [-8.5, -7.5, -6.5];

// plot boxes on the page
const boxTop = { l: 162, r: 1422, t: 125, b: 845 };
const boxRes = { l: 162, r: 1422, t: 953, b: 1403 };
const boxMdev = { l: 169, r: 709, t: 1511, b: 1961 };
const boxTdev = { l: 854, r: 1393, t: 1511, b: 1961 };

Chart.defaults.font.family = FONT;
Chart.defaults.color = '#000';

const minus = v => (v < 0 ? '\u2212' + Math.abs(v) : String(v));

// text with optional sub/superscript runs, optionally squeezed to a width
function richText(ctx, parts, x, y, opt) {
  const size = opt.size;
  const runs = parts.map(p => {
    const s = typeof p === 'string' ? { t: p } : p;
    const fs = s.sub || s.sup ? Math.round(size * 0.7) : size;
    ctx.font = `bold ${fs}px ${FONT}`;
    return { t: s.t, fs, w: ctx.measureText(s.t).width, dy: s.sub ? size * 0.3 : s.sup ? -size * 0.4 : 0 };
  });
  const total = runs.reduce((a, r) => a + r.w, 0);
  ctx.save();
  ctx.translate(x, y);
  if (opt.rotate) ctx.rotate(opt.rotate);
  ctx.scale(opt.width ? opt.width / total : 1, 1);
  ctx.fillStyle = opt.color || '#000';
  ctx.textBaseline = opt.baseline || 'alphabetic';
  ctx.textAlign = 'left';
  let cx = opt.align === 'center' ? -total / 2 : opt.align === 'right' ? -total : 0;
  runs.forEach(r => {
    ctx.font = `bold ${r.fs}px ${FONT}`;
    ctx.fillText(r.t, cx, r.dy);
    cx += r.w;
  });
  ctx.restore();
}

// four framing axes, ticks outward, labels on bottom and left only
function frame(box, xr, yr, xTicks, yTicks, yFmt, tl, xPad, yPad) {
  const grid = { display: true, drawOnChartArea: false, drawTicks: true, tickLength: tl, tickWidth: 1.6, tickColor: '#000' };
  const border = { display: true, color: '#000', width: 1.5 };
  const font = { family: FONT, size: 28 };
  const setTicks = vals => s => { s.ticks = vals.map(v => ({ value: v })); };
  return {
    x: {
      type: 'linear', position: 'bottom', min: xr[0], max: xr[1], grid, border,
      afterBuildTicks: setTicks(xTicks), afterFit: s => { s.height = H - box.b; },
      ticks: { font, color: '#000', padding: xPad, maxRotation: 0, autoSkip: false, callback: minus }
    },
    x2: {
      type: 'linear', axis: 'x', position: 'top', min: xr[0], max: xr[1], grid, border,
      afterBuildTicks: setTicks(xTicks), afterFit: s => { s.height = box.t; },
      ticks: { display: false }
    },
    y: {
      type: 'linear', position: 'left', min: yr[0], max: yr[1], grid, border,
      afterBuildTicks: setTicks(yTicks), afterFit: s => { s.width = box.l; },
      ticks: { font, color: '#000', padding: yPad, autoSkip: false, callback: yFmt }
    },
    y2: {
      type: 'linear', axis: 'y', position: 'right', min: yr[0], max: yr[1], grid, border,
      afterBuildTicks: setTicks(yTicks), afterFit: s => { s.width = W - box.r; },
      ticks: { display: false }
    }
  };
}

// short unlabelled ticks between the major ones
function minorTicks(spec, len) {
  return {
    id: 'minorTicks',
    afterDraw(chart) {
      const ctx = chart.ctx;
      ctx.save();
      ctx.strokeStyle = '#000';
      ctx.lineWidth = 1.6;
      ctx.beginPath();
      Object.keys(spec).forEach(id => {
        const s = chart.scales[id];
        spec[id].forEach(v => {
          const p = s.getPixelForValue(v);
          if (s.position === 'bottom') { ctx.moveTo(p, s.top); ctx.lineTo(p, s.top + len); }
          if (s.position === 'top') { ctx.moveTo(p, s.bottom); ctx.lineTo(p, s.bottom - len); }
          if (s.position === 'left') { ctx.moveTo(s.right, p); ctx.lineTo(s.right - len, p); }
          if (s.position === 'right') { ctx.moveTo(s.left, p); ctx.lineTo(s.left + len, p); }
        });
      });
      ctx.stroke();
      ctx.restore();
    }
  };
}

function options(scales) {
  return {
    responsive: false,
    animation: false,
    devicePixelRatio: 1,
    events: [],
    layout: { padding: 0 },
    plugins: { legend: { display: false }, tooltip: { enabled: false } },
    scales
  };
}

const crosses = (xs, values) => ({
  data: xs.map((x, i) => ({ x, y: values[i] })),
  pointStyle: 'crossRot', pointRadius: 4.5, borderColor: '#000', backgroundColor: '#000', borderWidth: 1.1
});

// top panel: GPS P3 and GPSPPP
new Chart(document.getElementById('topChart'), {
  type: 'scatter',
  data: {
    datasets: [
      crosses(epochs, p3Black),
      crosses(epochs2, p3Black2),
      {
        data: pppX.map((x, i) => ({ x, y: pppY[i] })),
        showLine: true, spanGaps: false, borderColor: BLUE, borderWidth: 4, pointRadius: 0
      },
      {
        data: pppOddX.map((x, i) => ({ x, y: pppOddY[i] })),
        pointStyle: 'rect', pointRadius: 2, backgroundColor: BLUE, borderColor: BLUE
      }
    ]
  },
  options: options(frame(boxTop, [60794, 60826], [-6, 21], mjdTicks, nsTicks, minus, 14, 6, 15)),
  plugins: [
    minorTicks({ x: mjdMinor, x2: mjdMinor }, 7),
    {
      id: 'topText',
      afterDraw(chart) {
        const { ctx, chartArea: a } = chart;
        richText(ctx, ['nanosecond'], 82, (a.top + a.bottom) / 2, { size: 29, rotate: -Math.PI / 2, align: 'center', baseline: 'middle' });
        richText(ctx, ['Modified Julian Date'], (a.left + a.right) / 2, a.bottom + 78, { size: 29, align: 'center', width: 291 });
        richText(ctx, ['_2505_RO10PT13_RO10PT13.P3AA5'], 200, 808, { size: 28, width: 522 });
        richText(ctx, ['GPS P3 (x', { t: 'black', sub: true }, ') ,'], 766, 808, { size: 28, width: 222 });
        richText(ctx, ['GPSPPP (o', { t: 'blue', sub: true }, ')  2888Ep'], 1006, 808, { size: 28, width: 333 });
      }
    }
  ]
});

// middle panel: residuals
new Chart(document.getElementById('resChart'), {
  type: 'scatter',
  data: { datasets: [crosses(epochs, residuals), crosses(epochs2, residuals2)] },
  options: options(frame(boxRes, [60794, 60826], [5.77, 11.27], mjdTicks, resTicks, v => v.toFixed(1), 14, 6, 15)),
  plugins: [
    minorTicks({ x: mjdMinor, x2: mjdMinor }, 7),
    {
      id: 'resText',
      afterDraw(chart) {
        const { ctx, chartArea: a } = chart;
        richText(ctx, ['residuals (ns)'], 63, (a.top + a.bottom) / 2, { size: 29, rotate: -Math.PI / 2, align: 'center', baseline: 'middle' });
        richText(ctx, ['Modified Julian Date'], (a.left + a.right) / 2, a.bottom + 78, { size: 29, align: 'center', width: 291 });
        richText(ctx, ['Max Smoothing Residual: _-404.581____2.473___-8.295  Sigma= 57.633ns-MeanRmved'], 203, 1381, { size: 25, width: 1026 });
      }
    }
  ]
});

// labels above each point and above the tau markers
function pointText(chart, labels, size, lift) {
  const { ctx, chartArea: a } = chart;
  const meta = chart.getDatasetMeta(0);
  ctx.save();
  ctx.font = `bold ${size}px ${FONT}`;
  ctx.fillStyle = RED;
  ctx.textBaseline = 'alphabetic';
  ctx.textAlign = 'left';
  meta.data.forEach((el, i) => {
    const w = ctx.measureText(labels[i]).width;
    ctx.fillText(labels[i], Math.max(el.x - w / 2, a.left + 1), el.y - lift);
  });
  ctx.restore();
}
function markText(chart, size, lift) {
  const { ctx, chartArea: a } = chart;
  const meta = chart.getDatasetMeta(1);
  ctx.save();
  ctx.font = `bold ${size}px ${FONT}`;
  ctx.fillStyle = RED;
  ctx.textAlign = 'center';
  ctx.textBaseline = 'alphabetic';
  meta.data.forEach((el, i) => ctx.fillText(markLabels[i], el.x, a.bottom - lift));
  ctx.restore();
}

const dots = (xs, ys, r) => ({
  data: xs.map((x, i) => ({ x, y: ys[i] })),
  pointRadius: r, backgroundColor: '#000', borderColor: '#000', borderWidth: 0, clip: 0
});
const floor = (xs, y) => ({
  data: xs.map(x => ({ x, y })),
  pointRadius: 4.5, backgroundColor: '#000', borderColor: '#000', borderWidth: 0, clip: 0
});

// lower left: modified Allan deviation
new Chart(document.getElementById('mdevChart'), {
  type: 'scatter',
  data: { datasets: [dots(logTau, mdev, 6), floor(markX, -14.5)] },
  options: options(frame(boxMdev, [3, 6], [-14.5, -9.5], logTicks, mdevTicks, minus, 13, 7, 14)),
  plugins: [
    minorTicks({ x: logMinor, x2: logMinor, y: mdevMinor, y2: mdevMinor }, 7),
    {
      id: 'mdevText',
      afterDraw(chart) {
        const { ctx, chartArea: a } = chart;
        richText(ctx, ['Modified Allan Deviation (10', { t: '-15', sup: true }, ')'], 74, (a.top + a.bottom) / 2,
          { size: 29, rotate: -Math.PI / 2, align: 'center', baseline: 'middle', width: 436 });
        richText(ctx, ['Averaging time, log(\u03c4) (s)'], (a.left + a.right) / 2, a.bottom + 77, { size: 29, align: 'center', width: 354 });
        richText(ctx, ['\u03c4 = 1017s'], a.left + 45, a.top + 31, { size: 14 });
        pointText(chart, mdevLabels, 20, 8);
        markText(chart, 20, 9);
      }
    }
  ]
});

// lower right: time deviation
new Chart(document.getElementById('tdevChart'), {
  type: 'scatter',
  data: { datasets: [dots(logTau, tdev, 6), floor(markX, -9)] },
  options: options(frame(boxTdev, [2.75, 6], [-9, -6.5], logTicks, tdevTicks, minus, 13, 7, 14)),
  plugins: [
    minorTicks({ x: logMinor, x2: logMinor, y: tdevMinor, y2: tdevMinor }, 7),
    {
      id: 'tdevText',
      afterDraw(chart) {
        const { ctx, chartArea: a } = chart;
        richText(ctx, ['Time deviation (10', { t: '-10', sup: true }, ' s)'], 775, (a.top + a.bottom) / 2,
          { size: 29, rotate: -Math.PI / 2, align: 'center', baseline: 'middle', width: 325 });
        richText(ctx, ['Averaging time, log(\u03c4) (s)'], (a.left + a.right) / 2, a.bottom + 77, { size: 29, align: 'center', width: 354 });
        pointText(chart, tdevLabels, 17, 17);
        markText(chart, 19, 18);
      }
    }
  ]
});
</script>
</body>
</html>
